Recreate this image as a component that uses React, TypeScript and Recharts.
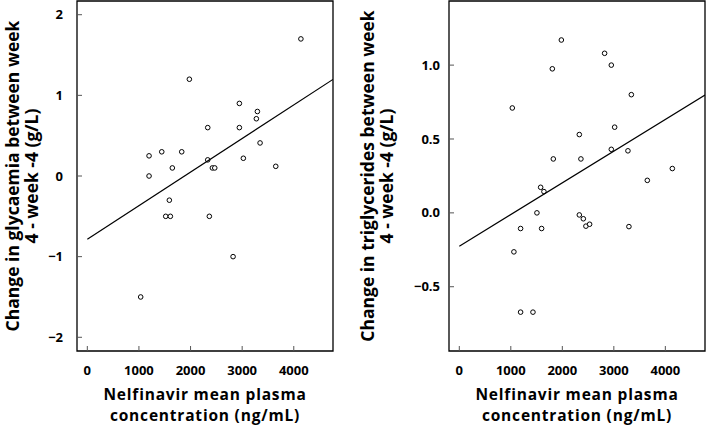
import React from 'react';
import { ReferenceArea, Scatter, ScatterChart, XAxis, YAxis } from 'recharts';

// left panel: change in glycaemia vs nelfinavir concentration
const glycaemiaPoints = [
  { x: 4138, y: 1.7 },
  { x: 1977, y: 1.2 },
  { x: 2946, y: 0.9 },
  { x: 3295, y: 0.8 },
  { x: 3275, y: 0.71 },
  { x: 2333, y: 0.6 },
  { x: 2946, y: 0.6 },
  { x: 3347, y: 0.41 },
  { x: 1196, y: 0.25 },
  { x: 1442, y: 0.3 },
  { x: 1829, y: 0.3 },
  { x: 1647, y: 0.1 },
  { x: 2333, y: 0.2 },
  { x: 2423, y: 0.1 },
  { x: 2469, y: 0.1 },
  { x: 3023, y: 0.22 },
  { x: 3651, y: 0.12 },
  { x: 1196, y: 0.0 },
  { x: 1589, y: -0.3 },
  { x: 1519, y: -0.5 },
  { x: 1609, y: -0.5 },
  { x: 2364, y: -0.5 },
  { x: 2824, y: -1.0 },
  { x: 1034, y: -1.5 },
];
const glycaemiaFit = [
  { x: 0, y: -0.785 },
  { x: 4760, y: 1.198 },
];

// right panel: change in triglycerides
const triglyceridePoints = [
  { x: 1981, y: 1.17 },
  { x: 2821, y: 1.08 },
  { x: 2951, y: 1.0 },
  { x: 1806, y: 0.975 },
  { x: 3340, y: 0.8 },
  { x: 1029, y: 0.71 },
  { x: 3016, y: 0.58 },
  { x: 2330, y: 0.53 },
  { x: 2951, y: 0.43 },
  { x: 3274, y: 0.42 },
  { x: 1825, y: 0.365 },
  { x: 2361, y: 0.365 },
  { x: 4136, y: 0.3 },
  { x: 3650, y: 0.22 },
  { x: 1579, y: 0.173 },
  { x: 1643, y: 0.144 },
  { x: 1507, y: 0.0 },
  { x: 2330, y: -0.014 },
  { x: 2408, y: -0.04 },
  { x: 2458, y: -0.09 },
  { x: 2530, y: -0.077 },
  { x: 3293, y: -0.093 },
  { x: 1190, y: -0.106 },
  { x: 1598, y: -0.106 },
  { x: 1060, y: -0.264 },
  { x: 1190, y: -0.672 },
  { x: 1430, y: -0.672 },
];
const triglycerideFit = [
  { x: 0, y: -0.226 },
  { x: 4770, y: 0.797 },
];

const xTicks = [0, 1000, 2000, 3000, 4000];
const glycaemiaTicks = [-2, -1, 0, 1, 2];
const triglycerideTicks = [-0.5, 0, 0.5, 1];

const xTitle = ['Nelfinavir mean plasma', 'concentration (ng/mL)'];
const glycaemiaTitle = ['Change in glycaemia between week', '4 - week -4 (g/L)'];
const triglycerideTitle = ['Change in triglycerides between week', '4 - week -4 (g/L)'];

const FONT = '"Open Sans", Lato, sans-serif';
const tickStyle = { fontSize: 13, fontWeight: 700, fill: '#000', fontFamily: FONT };

const minus = (s: string) => s.replace('-', '\u2212');

const Dot = (p: any) => (
  <circle cx={p.cx} cy={p.cy} r={2.3} fill='#fff' stroke='#000' strokeWidth={1} />
);

const NoDot = () => null;

// two-line rotated title, kept in one text element
function YTitle({ viewBox, lines, x0 }: any) {
  const cy = viewBox ? viewBox.y + viewBox.height / 2 : 175;
  return (
    <text
      transform={`translate(${x0}, ${cy}) rotate(-90)`}
      textAnchor='middle'
      fontFamily={FONT}
      fontWeight={700}
      fontSize={17.5}
      fill='#000'
    >
      <tspan x={0} y={0}>{lines[0]}</tspan>
      <tspan x={0} dy={19}>{lines[1]}</tspan>
    </text>
  );
}

function XTitle({ viewBox }: any) {
  const cx = viewBox ? viewBox.x + viewBox.width / 2 : 200;
  return (
    <text
      textAnchor='middle'
      fontFamily={FONT}
      fontWeight={700}
      fontSize={15.5}
      letterSpacing={0.8}
      fill='#000'
    >
      <tspan x={cx} y={400}>{xTitle[0]}</tspan>
      <tspan x={cx} dy={21}>{xTitle[1]}</tspan>
    </text>
  );
}

function Panel({
  points,
  fit,
  yDomain,
  yTicks,
  xDomain,
  yFormat,
  title,
  titleX,
  marginLeft,
  marginRight,
  yTickMargin,
}: any) {
  return (
    <ScatterChart
      width={353}
      height={428}
      margin={{ top: 1, right: marginRight, bottom: 47, left: marginLeft }}
    >
      <ReferenceArea
        x1={xDomain[0]}
        x2={xDomain[1]}
        y1={yDomain[0]}
        y2={yDomain[1]}
        fill='none'
        stroke='#000'
        strokeWidth={1.3}
        ifOverflow='extendDomain'
      />
      <XAxis
        type='number'
        dataKey='x'
        domain={xDomain}
        ticks={xTicks}
        allowDataOverflow
        height={30}
        tickSize={-5}
        tickMargin={20}
        axisLine={false}
        tickLine={{ stroke: '#555' }}
        tick={tickStyle}
        label={<XTitle />}
      />
      <YAxis
        type='number'
        dataKey='y'
        domain={yDomain}
        ticks={yTicks}
        allowDataOverflow
        width={60}
        tickSize={-5}
        tickMargin={yTickMargin}
        axisLine={false}
        tickLine={{ stroke: '#555' }}
        tick={tickStyle}
        tickFormatter={yFormat}
        label={<YTitle lines={title} x0={titleX} />}
      />
      <Scatter data={points} shape={Dot} isAnimationActive={false} />
      <Scatter
        data={fit}
        shape={NoDot}
        line={{ stroke: '#000', strokeWidth: 1.2 }}
        isAnimationActive={false}
      />
    </ScatterChart>
  );
}

export default function App() {
  return (
    <div style={{ position: 'absolute', left: 0, top: 0, width: 706, height: 428, background: '#fff' }}>
      <div style={{ position: 'absolute', left: 0, top: 0 }}>
        <Panel
          points={glycaemiaPoints}
          fit={glycaemiaFit}
          xDomain={[-200, 4760]}
          yDomain={[-2.17, 2.17]}
          yTicks={glycaemiaTicks}
          yFormat={(v: number) => minus(String(v))}
          title={glycaemiaTitle}
          titleX={19}
          marginLeft={17}
          marginRight={20}
          yTickMargin={19}
        />
      </div>
      <div style={{ position: 'absolute', left: 353, top: 0 }}>
        <Panel
          points={triglyceridePoints}
          fit={triglycerideFit}
          xDomain={[-200, 4770]}
          yDomain={[-0.935, 1.434]}
          yTicks={triglycerideTicks}
          yFormat={(v: number) => minus(v.toFixed(1))}
          title={triglycerideTitle}
          titleX={21}
          marginLeft={36}
          marginRight={1}
          yTickMargin={14}
        />
      </div>
    </div>
  );
}
